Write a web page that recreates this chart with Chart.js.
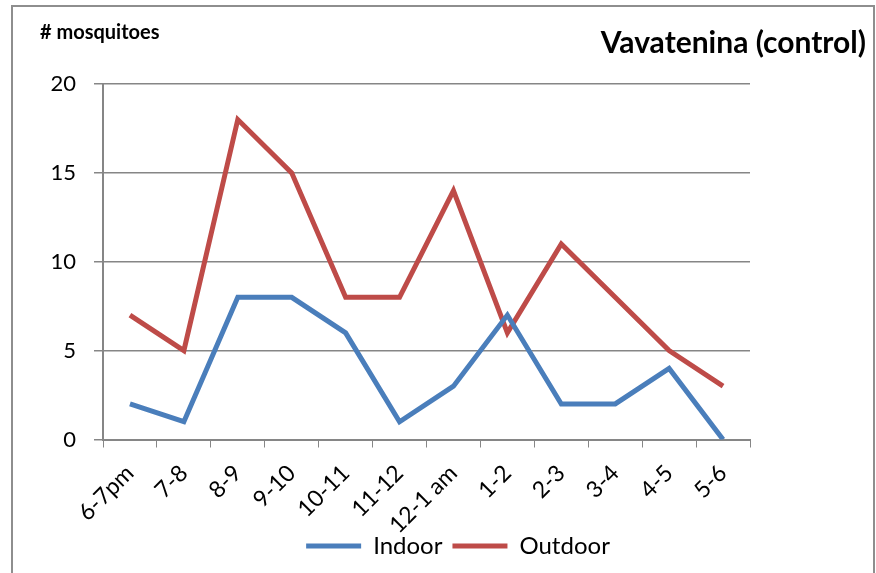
<!DOCTYPE html>
<html>
<head>
<meta charset="utf-8">
<script src="https://cdn.jsdelivr.net/npm/chart.js@4.4.1/dist/chart.umd.min.js"></script>
<style>
  html, body { margin: 0; padding: 0; background: #ffffff; }
  #wrap { width: 876px; height: 573px; position: relative; }
</style>
</head>
<body>
<div id="wrap"><canvas id="mosqChart" width="876" height="573"></canvas></div>
<script>
// data
const hours = ['6-7pm', '7-8', '8-9', '9-10', '10-11', '11-12', '12-1 am', '1-2', '2-3', '3-4', '4-5', '5-6'];
const indoor = [2, 1, 8, 8, 6, 1, 3, 7, 2, 2, 4, 0];
const outdoor = [7, 5, 18, 15, 8, 8, 14, 6, 11, 8, 5, 3];
const yTicks = [0, 5, 10, 15, 20];

const fontFamily = "Lato, 'Liberation Sans', sans-serif";
const axisGray = '#868686';
const indoorColor = '#4a7ebb';
const outdoorColor = '#be4b48';

// frame + the two free-standing captions
const decorations = {
    id: 'decorations',
    afterDraw(chart) {
        const ctx = chart.ctx;
        ctx.save();
        ctx.strokeStyle = '#8e8e8e';
        ctx.lineWidth = 2;
        ctx.strokeRect(12, 6, 862, 620);

        ctx.fillStyle = '#000';
        ctx.textBaseline = 'alphabetic';
        ctx.textAlign = 'left';
        ctx.font = 'bold 20px ' + fontFamily;
        ctx.fillText('# mosquitoes', 40, 39);

        ctx.textAlign = 'right';
        ctx.font = 'bold 30px ' + fontFamily;
        ctx.fillText('Vavatenina (control)', 866, 53);
        ctx.restore();
    }
};

new Chart(document.getElementById('mosqChart'), {
    type: 'line',
    data: {
        labels: hours,
        datasets: [
            {
                label: 'Indoor',
                data: indoor,
                borderColor: indoorColor,
                backgroundColor: indoorColor,
                borderWidth: 5,
                pointRadius: 0,
                tension: 0,
                yAxisID: 'y'
            },
            {
                label: 'Outdoor',
                data: outdoor,
                borderColor: outdoorColor,
                backgroundColor: outdoorColor,
                borderWidth: 5,
                pointRadius: 0,
                tension: 0,
                yAxisID: 'y'
            }
        ]
    },
    options: {
        responsive: false,
        animation: false,
        layout: { padding: { left: 40, right: 0, top: 84, bottom: 5 } },
        plugins: {
            title: { display: false },
            tooltip: { enabled: false },
            legend: {
                position: 'bottom',
                labels: {
                    boxWidth: 55,
                    boxHeight: 5,
                    padding: 10,
                    color: '#000',
                    font: { family: fontFamily, size: 24 },
                    generateLabels(chart) {
                        return chart.data.datasets.map((ds, i) => ({
                            text: ds.label,
                            fillStyle: ds.borderColor,
                            strokeStyle: ds.borderColor,
                            lineWidth: 0,
                            datasetIndex: i,
                            hidden: false
                        }));
                    }
                }
            }
        },
        scales: {
            x: {
                offset: true,
                grid: {
                    offset: true,
                    drawOnChartArea: false,
                    drawTicks: true,
                    tickLength: 8,
                    color: axisGray
                },
                border: { color: axisGray, width: 2 },
                ticks: {
                    minRotation: 45,
                    maxRotation: 45,
                    autoSkip: false,
                    padding: 12,
                    color: '#000',
                    font: { family: fontFamily, size: 23 }
                },
                afterFit(scale) {
                    scale.height = 84.5;
                    // the long rotated labels hang a little into the legend band, don't clip them
                    scale._computeLabelArea = () => undefined;
                }
            },
            y: {
                min: 0,
                max: 20,
                afterBuildTicks(scale) { scale.ticks = yTicks.map(v => ({ value: v })); },
                grid: { color: axisGray, lineWidth: 1.5, tickLength: 9 },
                border: { color: axisGray, width: 2 },
                ticks: {
                    padding: 18,
                    color: '#000',
                    font: { family: fontFamily, size: 22 }
                },
                afterFit(scale) { scale.width = 63; }
            },
            // empty right-hand spacer so the plot ends where the reference's does
            spacer: {
                position: 'right',
                min: 0,
                max: 20,
                grid: { display: false },
                border: { display: false },
                ticks: { display: false },
                afterFit(scale) { scale.width = 126; }
            }
        }
    },
    plugins: [decorations]
});
</script>
</body>
</html>
